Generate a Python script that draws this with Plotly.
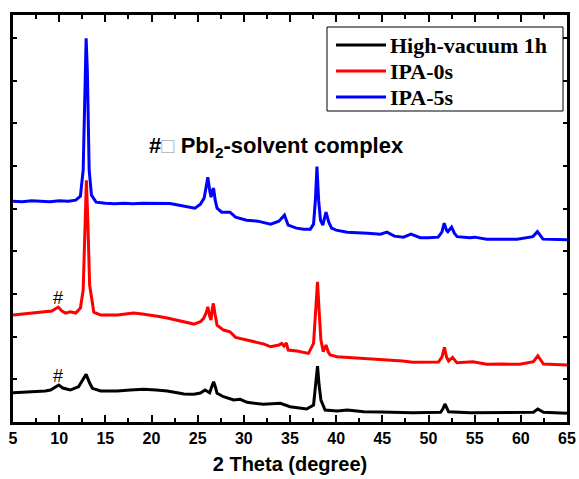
import plotly.graph_objects as go

# ---- data (2 Theta in degree, intensity in a.u.) ----
x_blue = [5, 6, 7, 8, 9, 10, 11, 11.8, 12.3, 12.6, 12.8, 12.92, 13.05, 13.25, 13.5, 14, 15, 16, 17, 18, 19, 20, 21, 22, 23, 24, 24.7, 25.3, 25.7, 25.95, 26.1, 26.3, 26.45, 26.6, 26.72, 26.9, 27.1, 27.6, 28.5, 29.1, 30.3, 31.5, 32.9, 33.8, 34.4, 34.8, 35.7, 36.5, 37.2, 37.55, 37.75, 37.92, 38.1, 38.3, 38.55, 38.9, 39.2, 39.5, 40, 41.2, 42.5, 43.4, 44.8, 45.5, 46.3, 47.3, 48.1, 49.1, 50, 51.05, 51.45, 51.7, 51.95, 52.1, 52.5, 52.8, 53.1, 54.5, 55, 56.3, 58, 59.6, 61.3, 61.8, 62.4, 63.5, 65]
y_blue = [221, 220.5, 221.5, 221, 220.5, 221.5, 221, 222, 226, 252, 362, 384, 352, 252, 227, 220, 219, 218.5, 219, 218.5, 219, 219, 218.5, 218.7, 217, 215.5, 214, 218, 224, 237, 245, 232, 225, 232, 234, 222, 214, 210, 210, 205, 202, 201, 198, 201, 207, 197, 194, 193, 193, 198, 222, 255.5, 222, 202, 197, 210, 200, 194, 192, 190, 189, 189, 188, 190, 186, 185, 188, 184.5, 184.5, 185, 190, 199, 192, 190.5, 195, 189, 185.5, 184.5, 185, 183, 183, 183, 185.5, 190.5, 183, 183, 182.5]

x_red = [5, 6, 7.2, 8.3, 9.2, 9.9, 10.3, 10.7, 11.2, 11.8, 12.3, 12.6, 12.8, 12.95, 13.1, 13.3, 13.75, 14.5, 15.3, 16.3, 17.2, 18.05, 19, 19.9, 20.8, 21.7, 22.6, 23.5, 24.6, 25.3, 25.65, 25.95, 26.1, 26.3, 26.45, 26.6, 26.7, 26.9, 27.1, 27.8, 28.5, 29.1, 30.35, 31.4, 32.2, 32.9, 33.8, 34.1, 34.35, 34.6, 34.8, 35.75, 36.4, 37.0, 37.55, 37.78, 37.98, 38.15, 38.35, 38.6, 38.9, 39.15, 39.35, 40.1, 41.2, 42, 43.0, 44.8, 46.1, 47.2, 48.3, 50.1, 51.08, 51.45, 51.73, 51.95, 52.17, 52.6, 53.07, 54.8, 56.3, 58, 59.9, 61.36, 61.84, 62.45, 63.7, 65]
y_red = [107, 108, 108.7, 109.7, 111, 115, 111, 109, 110.3, 109, 114, 132, 207, 242, 202, 137, 110, 107, 107, 107, 108, 109, 108, 107, 105.5, 104, 102, 100.5, 98, 100.3, 103.7, 110, 115.3, 106, 102, 114, 118.7, 107, 97, 92, 90.3, 84.7, 82, 80.3, 78, 75.3, 77, 78.7, 76, 79.3, 72, 71, 70, 68.7, 78.7, 112, 140.3, 112, 82, 70.3, 77, 70, 67, 65.3, 64.7, 64, 63, 62, 62, 61, 59.7, 59.7, 60, 65, 74.7, 65, 61, 64.7, 59.3, 60.3, 57.7, 58, 57.7, 60.3, 66.3, 58, 57.5, 57]

x_black = [5, 6.3, 7.5, 8.5, 9.06, 9.6, 9.96, 10.4, 11.2, 12.1, 12.5, 12.92, 13.3, 13.6, 14.5, 16.3, 17.7, 19.15, 20.5, 21.7, 23.1, 23.5, 24.6, 25.3, 25.8, 26.3, 26.55, 26.73, 26.95, 27.1, 27.8, 28.9, 29.6, 30.35, 32.1, 33.95, 35.0, 36.8, 37.55, 37.78, 37.98, 38.15, 38.35, 38.8, 40.1, 41.2, 43.0, 44.8, 48.3, 51.3, 51.55, 51.78, 52.0, 52.17, 54.5, 57, 61.36, 61.84, 62.45, 65]
y_black = [29.3, 30, 30.3, 31, 32, 35, 37, 34, 32, 35.3, 41, 47.7, 39, 33.7, 31, 31, 32, 32.7, 32, 31, 28.7, 28, 27.7, 29, 32, 29.3, 36, 40.3, 34, 28.7, 25.3, 22, 22.7, 19.7, 17.7, 18.7, 15.3, 13, 17, 37, 56, 37, 22, 12, 11, 12, 10.3, 10, 9.3, 9.7, 13, 18, 13, 10.3, 9.3, 9.5, 9.7, 13, 9.7, 8.7]

series_names = ["High-vacuum 1h", "IPA-0s", "IPA-5s"]
series_colors = ["#000000", "#ff0000", "#0000ff"]

x_ticks = [5, 10, 15, 20, 25, 30, 35, 40, 45, 50, 55, 60, 65]

W, H = 579, 479
ML, MR, MT, MB = 13, 12, 15, 57
PW, PH = W - ML - MR, H - MT - MB


def px_x(p):
    return (p - ML) / PW


def px_y(p):
    return (H - MB - p) / PH


fig = go.Figure()
for name, color, xs, ys in zip(series_names, series_colors,
                               [x_black, x_red, x_blue], [y_black, y_red, y_blue]):
    fig.add_trace(go.Scatter(x=xs, y=ys, mode="lines", name=name, showlegend=False,
                             line=dict(color=color, width=3)))

label_font = dict(family="Liberation Sans", size=16, color="black", weight="bold")

fig.update_layout(
    width=W, height=H,
    margin=dict(l=ML, r=MR, t=MT, b=MB),
    plot_bgcolor="white", paper_bgcolor="white",
    showlegend=False,
    xaxis=dict(range=[5, 65], tickmode="array", tickvals=x_ticks,
               ticktext=[str(v) for v in x_ticks], automargin=False,
               ticks="inside", ticklen=7, tickwidth=2, tickcolor="black",
               minor=dict(dtick=2.5, tick0=5, ticks="inside", ticklen=4, tickwidth=2, tickcolor="black"),
               showline=True, linecolor="black", linewidth=3, mirror="allticks",
               showgrid=False, zeroline=False, tickfont=label_font,
               title=dict(text="2 Theta (degree)", standoff=11,
                          font=dict(family="Liberation Sans", size=20, color="black", weight="bold"))),
    yaxis=dict(range=[0, 407.3], tick0=0, dtick=42.7, automargin=False,
               ticks="inside", ticklen=4, tickwidth=2, tickcolor="black",
               showticklabels=False,
               showline=True, linecolor="black", linewidth=3, mirror="allticks",
               showgrid=False, zeroline=False),
)

# legend box drawn with shapes, entries from series_names / series_colors
fig.add_shape(type="rect", xref="paper", yref="paper",
              x0=px_x(327), x1=px_x(563), y0=px_y(111), y1=px_y(27),
              line=dict(color="black", width=1), fillcolor="white", layer="above")
row_y = [45, 71, 97]
for name, color, ry in zip(series_names, series_colors, row_y):
    fig.add_shape(type="line", xref="paper", yref="paper",
                  x0=px_x(336), x1=px_x(386), y0=px_y(ry), y1=px_y(ry),
                  line=dict(color=color, width=3), layer="above")
    fig.add_annotation(xref="paper", yref="paper", x=px_x(388), y=px_y(ry),
                       xanchor="left", yanchor="middle", showarrow=False, text=name,
                       font=dict(family="Liberation Serif", size=22, color="black", weight="bold"))

fig.add_annotation(x=9.9, y=124, text="#", showarrow=False,
                   font=dict(family="Liberation Sans", size=18, color="black"))
fig.add_annotation(x=9.9, y=46, text="#", showarrow=False,
                   font=dict(family="Liberation Sans", size=18, color="black"))
fig.add_annotation(x=19.55, y=275, xanchor="left", yanchor="middle", showarrow=False,
                   text="#<span style='color:#b0b0b0;font-weight:normal'>\u25a1</span> PbI<sub>2</sub>-solvent complex",
                   font=dict(family="Liberation Sans", size=22, color="black", weight="bold"))

fig.write_html("out.html", config={"displayModeBar": False},
               post_script="document.body.style.margin='0px';document.body.style.overflow='hidden';")
